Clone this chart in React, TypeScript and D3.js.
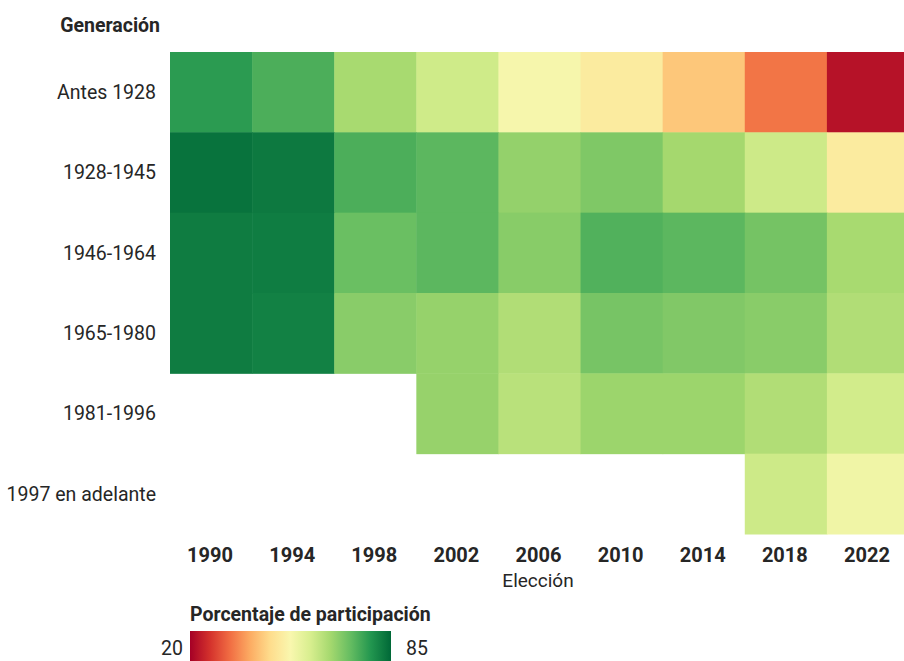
import React from "react";
import * as d3 from "d3";

const years = ["1990", "1994", "1998", "2002", "2006", "2010", "2014", "2018", "2022"];
const generations = ["Antes 1928", "1928-1945", "1946-1964", "1965-1980", "1981-1996", "1997 en adelante"];

const rowAntes1928 = [77.6, 74.4, 65, 60, 53, 49.6, 43.1, 33.7, 22.3];
const row1928 = [83.4, 82.6, 74.4, 72.8, 67.1, 69.3, 65.4, 60.3, 49.6];
const row1946 = [82.2, 82.1, 71.4, 72.8, 68.3, 73.9, 72.8, 70.3, 65];
const row1965 = [82.2, 81.5, 68.2, 66.9, 63.9, 70.1, 69.1, 68.2, 63.9];
const row1981 = [null, null, null, 66.8, 62.8, 66.3, 66.3, 63.9, 59.7];
const row1997 = [null, null, null, null, null, null, null, 60.3, 54.2];

const rows = [rowAntes1928, row1928, row1946, row1965, row1981, row1997];
const colorDomain = [20, 85];
const schemeColors = [
  "#a50026", "#d4322c", "#f16e43", "#fcac63", "#fedd8d", "#f9f7ae",
  "#d7ee8e", "#a4d86e", "#64bc61", "#22964f", "#006837",
];

export default function App() {
  const W = 904, H = 661;
  const x = d3.scaleBand().domain(years).range([170, 909]).padding(0);
  const y = d3.scaleBand().domain(generations).range([52, 534]).padding(0);
  const interp = d3.piecewise(d3.interpolateRgb, schemeColors);
  const color = d3.scaleSequential(interp).domain(colorDomain);
  const legX = d3.scaleLinear().domain(colorDomain).range([190, 391]);
  const stops = d3.range(0, 1.0001, 0.05);
  const font = "Roboto, sans-serif";
  const txt = "#262626";

  const cells: { g: string; yr: string; v: number }[] = [];
  rows.forEach((r, i) =>
    r.forEach((v, j) => {
      if (v != null) cells.push({ g: generations[i], yr: years[j], v: v as number });
    })
  );

  return (
    <svg width={W} height={H} style={{ position: "absolute", left: 0, top: 0 }} fontFamily={font}>
      <defs>
        <linearGradient id="leg" x1="0" x2="1" y1="0" y2="0">
          {stops.map((t) => (
            <stop key={t} offset={`${t * 100}%`} stopColor={interp(t)} />
          ))}
        </linearGradient>
      </defs>
      <rect x={0} y={0} width={W} height={H} fill="#fff" />
      {cells.map((c) => (
        <rect
          key={c.g + c.yr}
          x={x(c.yr)}
          y={y(c.g)}
          width={x.bandwidth() + 0.5}
          height={y.bandwidth() + 0.5}
          fill={color(c.v)}
        />
      ))}
      <text x={160} y={32} textAnchor="end" fontSize={19.5} fontWeight="bold" fill={txt}>
        Generación
      </text>
      {generations.map((g) => (
        <text
          key={g}
          x={156}
          y={(y(g) as number) + y.bandwidth() / 2}
          dy="0.35em"
          textAnchor="end"
          fontSize={19.5}
          fill={txt}
        >
          {g}
        </text>
      ))}
      {years.map((yr) => (
        <text
          key={yr}
          x={(x(yr) as number) + x.bandwidth() / 2 - 1}
          y={562}
          textAnchor="middle"
          fontSize={20}
          fontWeight="bold"
          fill={txt}
        >
          {yr}
        </text>
      ))}
      <text x={538} y={587} textAnchor="middle" fontSize={19} fill={txt}>
        Elección
      </text>
      <text x={190} y={621} fontSize={19.5} fontWeight="bold" fill={txt}>
        Porcentaje de participación
      </text>
      <rect x={legX(20)} y={631} width={legX(85) - legX(20)} height={30} fill="url(#leg)" />
      <text x={183} y={655} textAnchor="end" fontSize={19.5} fill={txt}>
        {colorDomain[0]}
      </text>
      <text x={406} y={655} fontSize={19.5} fill={txt}>
        {colorDomain[1]}
      </text>
    </svg>
  );
}
